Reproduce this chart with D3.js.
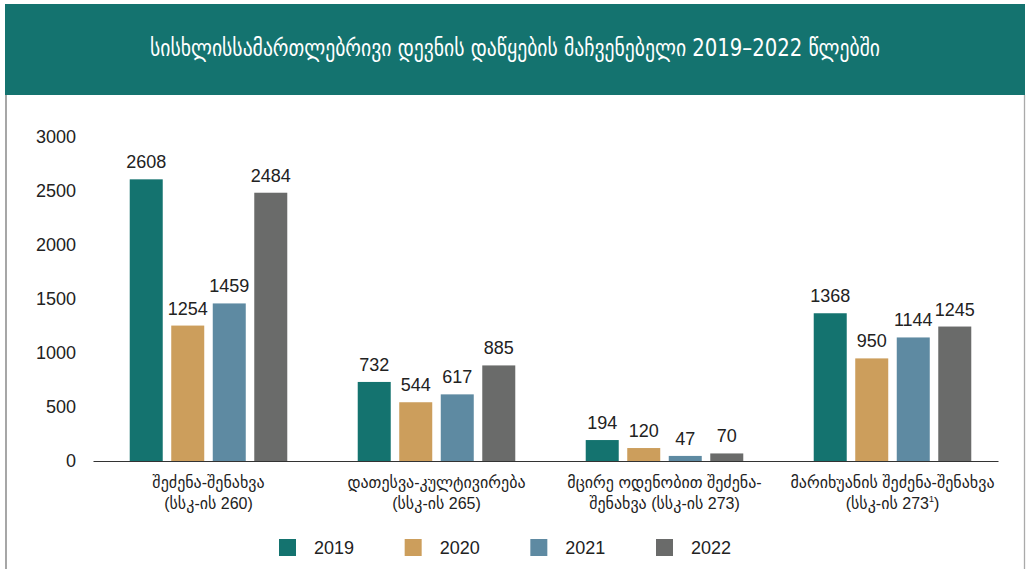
<!DOCTYPE html>
<html>
<head>
<meta charset="utf-8">
<script src="https://cdn.jsdelivr.net/npm/d3@7"></script>
<style>
  html, body { margin: 0; padding: 0; background: #fff; }
  svg { display: block; }
  text { font-family: "Liberation Sans", Arial, "DejaVu Sans", sans-serif; }
</style>
</head>
<body>
<svg id="chart" width="1027" height="569"></svg>
<script>
// ---- data ----
const titleText = "სისხლისსამართლებრივი დევნის დაწყების მაჩვენებელი 2019–2022 წლებში";
const categories = ["c1", "c2", "c3", "c4"];
const categoryLines = [
  ["შეძენა-შენახვა", "(სსკ-ის 260)"],
  ["დათესვა-კულტივირება", "(სსკ-ის 265)"],
  ["მცირე ოდენობით შეძენა-", "შენახვა (სსკ-ის 273)"],
  ["მარიხუანის შეძენა-შენახვა", "(სსკ-ის 273|1|)"]
];
const seriesNames = ["2019", "2020", "2021", "2022"];
const values2019 = [2608, 732, 194, 1368];
const values2020 = [1254, 544, 120, 950];
const values2021 = [1459, 617, 47, 1144];
const values2022 = [2484, 885, 70, 1245];
const seriesColors = ["#14736f", "#cc9e5c", "#5e8aa2", "#6a6b6a"];
const yTicks = [0, 500, 1000, 1500, 2000, 2500, 3000];

const seriesValues = [values2019, values2020, values2021, values2022];

// ---- drawing ----
const svg = d3.select("#chart");
const W = 1027, H = 569;

// title band and frame
svg.append("rect").attr("x", 5).attr("y", 4).attr("width", 1020).attr("height", 91)
  .attr("fill", "#14736f");
svg.append("line").attr("x1", 6).attr("x2", 6).attr("y1", 95).attr("y2", H)
  .attr("stroke", "#777").attr("stroke-width", 1.3);
svg.append("line").attr("x1", 1024.5).attr("x2", 1024.5).attr("y1", 95).attr("y2", H)
  .attr("stroke", "#aaa").attr("stroke-width", 1.3);

svg.append("text")
  .attr("x", 515).attr("y", 56)
  .attr("text-anchor", "middle")
  .attr("fill", "#fff")
  .attr("font-size", 24)
  .attr("textLength", 730)
  .attr("lengthAdjust", "spacingAndGlyphs")
  .style("font-family", "'DejaVu Sans Condensed', 'DejaVu Sans', sans-serif")
  .text(titleText);

// scales
const x0 = d3.scaleBand().domain(categories).range([94.5, 1006.5])
  .paddingInner(0.309).paddingOuter(0.1545);
const x1 = d3.scaleBand().domain(seriesNames).range([0, x0.bandwidth()])
  .paddingInner(0.205).paddingOuter(0);
const y = d3.scaleLinear().domain([0, 3000]).range([461, 137]);

// y axis labels
const yAxis = d3.axisLeft(y).tickValues(yTicks).tickFormat(d3.format("d"))
  .tickSize(0).tickPadding(0);
const yg = svg.append("g").attr("transform", "translate(76,0)").call(yAxis);
yg.select(".domain").remove();
yg.selectAll("text")
  .attr("font-size", 18).attr("fill", "#222")
  .style("font-family", "'Liberation Sans', Arial, sans-serif");

// bars
const groups = svg.append("g").selectAll("g")
  .data(categories)
  .join("g")
  .attr("transform", d => `translate(${x0(d)},0)`);

groups.each(function (cat, ci) {
  const g = d3.select(this);
  seriesNames.forEach((s, si) => {
    const v = seriesValues[si][ci];
    g.append("rect")
      .attr("x", x1(s))
      .attr("y", y(v))
      .attr("width", x1.bandwidth())
      .attr("height", y(0) - y(v))
      .attr("fill", seriesColors[si]);
    g.append("text")
      .attr("x", x1(s) + x1.bandwidth() / 2)
      .attr("y", y(v) - 11)
      .attr("text-anchor", "middle")
      .attr("font-size", 18)
      .attr("fill", "#222")
      .text(v);
  });
});

// baseline
svg.append("line")
  .attr("x1", x0.range()[0] - 1).attr("x2", x0.range()[1] - 8)
  .attr("y1", y(0) + 0.5).attr("y2", y(0) + 0.5)
  .attr("stroke", "#333").attr("stroke-width", 1.2);

// category labels
categories.forEach((cat, ci) => {
  const cx = x0(cat) + x0.bandwidth() / 2;
  categoryLines[ci].forEach((line, li) => {
    const t = svg.append("text")
      .attr("x", cx)
      .attr("y", 488 + li * 21)
      .attr("text-anchor", "middle")
      .attr("font-size", 16)
      .attr("fill", "#222");
    const parts = line.split("|");
    if (parts.length === 1) {
      t.text(line);
    } else {
      t.append("tspan").text(parts[0]);
      t.append("tspan").attr("font-size", 9).attr("dy", -7).text(parts[1]);
      t.append("tspan").attr("dy", 7).text(parts[2]);
    }
  });
});

// legend
const legendX = d3.scalePoint().domain(seriesNames).range([279, 656]);
seriesNames.forEach((s, si) => {
  const lx = legendX(s);
  svg.append("rect").attr("x", lx).attr("y", 539).attr("width", 17).attr("height", 17)
    .attr("fill", seriesColors[si]);
  svg.append("text").attr("x", lx + 35).attr("y", 554)
    .attr("font-size", 18).attr("fill", "#222").text(s);
});
</script>
</body>
</html>
